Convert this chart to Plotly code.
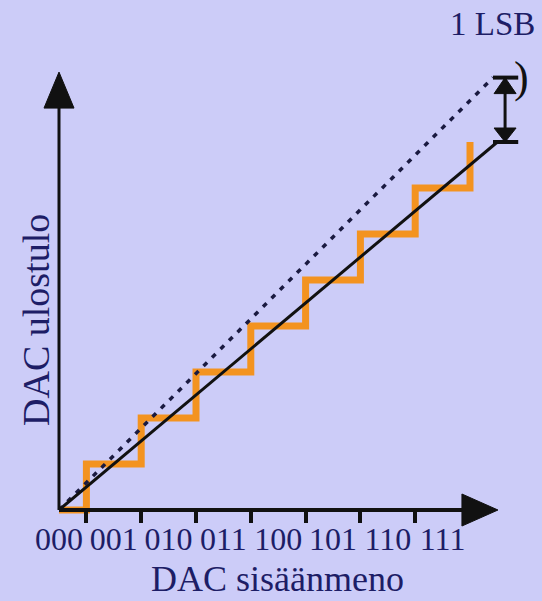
import plotly.graph_objects as go

# ---- data ----
codes = ["000", "001", "010", "011", "100", "101", "110", "111"]
code_pos = [0, 1, 2, 3, 4, 5, 6, 7]
step_edges = [0, 0.5, 1.5, 2.5, 3.5, 4.5, 5.5, 6.5, 7.5]
step_levels = [0, 1, 2, 3, 4, 5, 6, 7, 8]
tick_pos = [0.5, 1.5, 2.5, 3.5, 4.5, 5.5, 6.5]
ideal_x = [0, 8]
ideal_y = [0, 8]
full_x = [0, 7.92]
full_y = [0, 9.4]
lsb_low = 8.0
lsb_high = 9.4
bracket_x = 8.14
bracket_bar = [7.92, 8.38]

# ---- layout constants (pixels) ----
W, H = 542, 601
X0, Y0 = 59, 510          # origin pixel
XU, YU = 54.8, 46.0       # pixels per unit
xr = [(0 - X0) / XU, (W - X0) / XU]
yr = [(Y0 - H) / YU, Y0 / YU]

def dx(px):
    return px / XU

def dy(px):
    return px / YU

BG = "#ccccf8"
NAVY = "#1d1d66"
ORANGE = "#f39320"
INK = "#111111"
FONT = "Liberation Serif"

fig = go.Figure()

# staircase
fig.add_trace(go.Scatter(x=step_edges, y=step_levels, mode="lines",
                         line=dict(color=ORANGE, width=7, shape="hv"),
                         hoverinfo="skip", showlegend=False))
# full-scale dashed line
fig.add_trace(go.Scatter(x=full_x, y=full_y, mode="lines",
                         line=dict(color="#1a1a40", width=3.5, dash="5px,7px"),
                         showlegend=False))
# ideal line
fig.add_trace(go.Scatter(x=ideal_x, y=ideal_y, mode="lines",
                         line=dict(color=INK, width=3), showlegend=False))

# axes lines
y_tip = 9.52
y_head = dy(36)
x_tip = 8.01
x_head = dx(36)
fig.add_trace(go.Scatter(x=[0, 0], y=[0, y_tip - y_head + 0.05], mode="lines",
                         line=dict(color=INK, width=3), showlegend=False))
fig.add_trace(go.Scatter(x=[0, x_tip - x_head + 0.05], y=[0, 0], mode="lines",
                         line=dict(color=INK, width=4), showlegend=False))

def tri(xs, ys):
    fig.add_trace(go.Scatter(x=xs + [xs[0]], y=ys + [ys[0]], mode="lines",
                             fill="toself", fillcolor=INK,
                             line=dict(color=INK, width=1), showlegend=False))

# y-axis arrowhead
tri([-dx(15), dx(15), 0], [y_tip - y_head, y_tip - y_head, y_tip])
# x-axis arrowhead
tri([x_tip - x_head, x_tip - x_head, x_tip], [-dy(16), dy(16), 0])

# LSB bracket
fig.add_trace(go.Scatter(x=bracket_bar, y=[lsb_low, lsb_low], mode="lines",
                         line=dict(color=INK, width=4), showlegend=False))
fig.add_trace(go.Scatter(x=bracket_bar, y=[lsb_high, lsb_high], mode="lines",
                         line=dict(color=INK, width=4), showlegend=False))
fig.add_trace(go.Scatter(x=[bracket_x, bracket_x], y=[lsb_low, lsb_high], mode="lines",
                         line=dict(color=INK, width=3), showlegend=False))
tri([bracket_x - dx(11), bracket_x + dx(11), bracket_x],
    [lsb_high - dy(16), lsb_high - dy(16), lsb_high])
tri([bracket_x - dx(11), bracket_x + dx(11), bracket_x],
    [lsb_low + dy(14), lsb_low + dy(14), lsb_low])

fig.add_annotation(x=bracket_x + dx(16), y=lsb_high, text=")", showarrow=False,
                   font=dict(family=FONT, size=44, color=INK),
                   xanchor="center", yanchor="middle")
fig.add_annotation(x=dx(492 - X0), y=dy(Y0 - 24), text="1 LSB", showarrow=False,
                   font=dict(family=FONT, size=33, color=NAVY),
                   xanchor="center", yanchor="middle")

# axis titles
fig.add_annotation(x=277 / W, y=(H - 579) / H, xref="paper", yref="paper",
                   text="DAC sisäänmeno", showarrow=False,
                   font=dict(family=FONT, size=36, color=NAVY),
                   xanchor="center", yanchor="middle")
fig.add_annotation(x=36 / W, y=(H - 320) / H, xref="paper", yref="paper",
                   text="DAC ulostulo", showarrow=False, textangle=-90,
                   font=dict(family=FONT, size=38, color=NAVY),
                   xanchor="center", yanchor="middle")

fig.update_layout(
    width=W, height=H,
    margin=dict(l=0, r=0, t=0, b=0),
    paper_bgcolor=BG, plot_bgcolor=BG,
    showlegend=False,
    xaxis=dict(range=xr, anchor="free", position=(H - Y0) / H,
               showgrid=False, zeroline=False, showline=False,
               tickmode="array", tickvals=code_pos, ticktext=codes,
               ticks="outside", ticklen=1, tickcolor="rgba(0,0,0,0)",
               tickfont=dict(family=FONT, size=32, color=NAVY),
               minor=dict(tickmode="array", tickvals=tick_pos, ticks="outside",
                          ticklen=12, tickwidth=3.5, tickcolor=INK, showgrid=False),
               automargin=False, fixedrange=True),
    yaxis=dict(range=yr, visible=False, showgrid=False, zeroline=False,
               automargin=False, fixedrange=True),
)

fig.write_html(
    "out.html",
    config={"displayModeBar": False},
    post_script="document.body.style.margin='0';document.body.style.background='" + BG + "';",
)
